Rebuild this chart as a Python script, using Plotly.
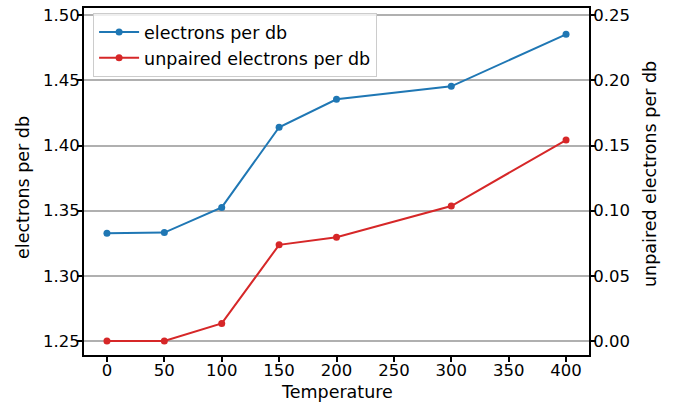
import plotly.graph_objects as go

temperature = [0, 50, 100, 150, 200, 300, 400]
electrons_per_db = [1.3327, 1.3332, 1.3525, 1.4140, 1.4355, 1.4454, 1.4853]
unpaired_per_db = [0.0, 0.0, 0.0135, 0.0738, 0.0796, 0.1036, 0.1542]

x_ticks = [0, 50, 100, 150, 200, 250, 300, 350, 400]
left_ticks = [1.25, 1.30, 1.35, 1.40, 1.45, 1.50]
right_ticks = [0.00, 0.05, 0.10, 0.15, 0.20, 0.25]

BLUE = "#1f77b4"
RED = "#d62728"
FONT = "DejaVu Sans"
TICK_SIZE = 16.5
LABEL_SIZE = 17.5

W, H = 675, 404
ML, MR, MT, MB = 84, 86, 8, 49
PW, PH = W - ML - MR, H - MT - MB

fig = go.Figure()
fig.add_trace(go.Scatter(
    x=temperature, y=electrons_per_db, name="electrons per db",
    mode="lines+markers", line=dict(color=BLUE, width=2),
    marker=dict(color=BLUE, size=7), yaxis="y"))
fig.add_trace(go.Scatter(
    x=temperature, y=unpaired_per_db, name="unpaired electrons per db",
    mode="lines+markers", line=dict(color=RED, width=2),
    marker=dict(color=RED, size=7), yaxis="y2"))

axis_common = dict(
    showline=True, linecolor="black", linewidth=2, automargin=False,
    ticks="outside", ticklen=5, tickwidth=1.5, tickcolor="black",
    zeroline=False, tickfont=dict(size=TICK_SIZE, color="black", family=FONT),
)

fig.update_layout(
    width=W, height=H,
    margin=dict(l=ML, r=MR, t=MT, b=MB),
    paper_bgcolor="white", plot_bgcolor="white",
    font=dict(family=FONT, size=LABEL_SIZE, color="black"),
    showlegend=True,
    legend=dict(
        x=0.018, y=0.985, xanchor="left", yanchor="top", itemwidth=40,
        bgcolor="rgba(255,255,255,0.8)", bordercolor="#cccccc", borderwidth=1,
        font=dict(size=LABEL_SIZE, family=FONT, color="black"),
    ),
    xaxis=dict(
        range=[-20, 420], tickmode="array", tickvals=x_ticks,
        ticktext=[str(v) for v in x_ticks], showgrid=False,
        ticklabelstandoff=-6, mirror=True, **axis_common),
    yaxis=dict(
        range=[1.2393, 1.5055], tickmode="array", tickvals=left_ticks,
        ticktext=[f"{v:.2f}" for v in left_ticks], showgrid=False,
        ticklabelstandoff=-6, **axis_common),
    yaxis2=dict(
        range=[-0.0107, 0.2555], tickmode="array", tickvals=right_ticks,
        ticktext=[f"{v:.2f}" for v in right_ticks], overlaying="y", side="right",
        showgrid=True, gridcolor="#b0b0b0", gridwidth=1.5,
        ticklabelstandoff=-6, **axis_common),
)

label_font = dict(size=LABEL_SIZE, family=FONT, color="black")
fig.add_annotation(text="Temperature", xref="paper", yref="paper",
                   x=(337 - ML) / PW, y=-(392 - (H - MB)) / PH,
                   xanchor="center", yanchor="middle", showarrow=False, font=label_font)
fig.add_annotation(text="electrons per db", xref="paper", yref="paper",
                   x=-(ML - 23) / PW, y=(H - MB - 188) / PH, textangle=-90,
                   xanchor="center", yanchor="middle", showarrow=False, font=label_font)
fig.add_annotation(text="unpaired electrons per db", xref="paper", yref="paper",
                   x=1 + (650 - (W - MR)) / PW, y=(H - MB - 174) / PH, textangle=-90,
                   xanchor="center", yanchor="middle", showarrow=False, font=label_font)

fig.write_html("out.html")
